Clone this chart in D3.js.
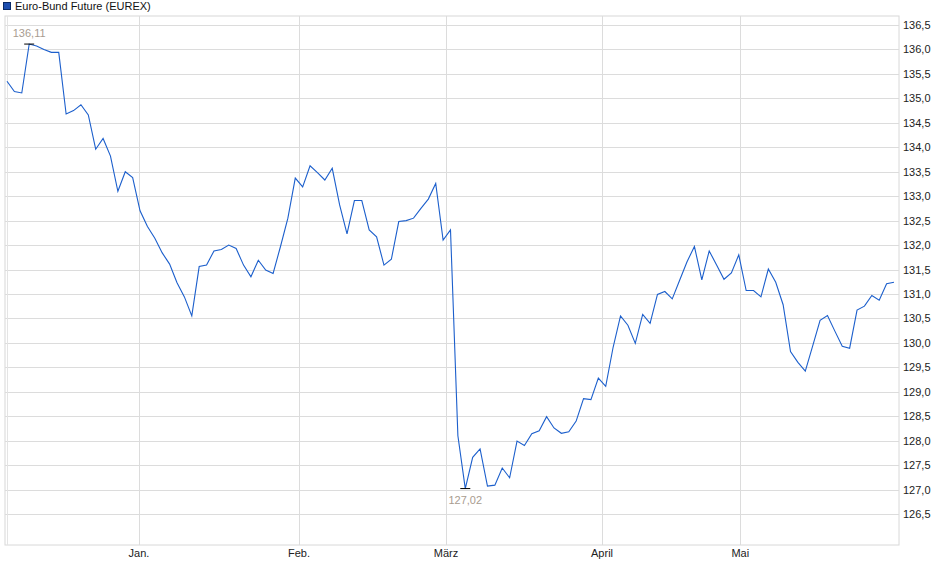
<!DOCTYPE html>
<html><head><meta charset="utf-8">
<script src="https://cdn.jsdelivr.net/npm/d3@7"></script>
<style>body{margin:0;background:#fff}svg{font-family:"Liberation Sans",Arial,sans-serif}</style>
</head><body><svg id="c" width="940" height="579"></svg>
<script>
// closing prices, one per trading day
const prices = [135.35,135.14,135.11,136.11,136.07,136.00,135.94,135.94,134.68,134.75,134.87,134.66,133.96,134.18,133.82,133.10,133.50,133.38,132.70,132.38,132.14,131.84,131.61,131.23,130.94,130.55,131.56,131.59,131.88,131.91,132.00,131.93,131.59,131.35,131.69,131.49,131.42,131.97,132.55,133.37,133.19,133.62,133.48,133.33,133.57,132.82,132.23,132.91,132.91,132.31,132.17,131.59,131.71,132.48,132.50,132.55,132.75,132.94,133.26,132.10,132.31,128.10,
127.02,127.66,127.83,127.07,127.09,127.44,127.24,127.99,127.90,128.14,128.20,128.49,128.26,128.15,128.18,128.40,128.86,128.84,129.28,129.11,129.91,130.55,130.36,129.99,130.58,130.40,130.99,131.05,130.90,131.28,131.66,131.97,131.29,131.88,131.59,131.30,131.43,131.80,131.07,131.07,130.94,131.51,131.24,130.78,129.82,129.60,129.42,129.94,130.46,130.56,130.24,129.93,129.89,130.67,130.75,130.97,130.87,131.21,131.24];
const monthLabels = ["Jan.","Feb.","März","April","Mai"];
const monthPos = [17.86,39.5,59.4,80.5,99.2];
const yTicks = d3.range(126.5,136.51,0.5);

const svg = d3.select("#c");
const L=5,R=899,T=16,B=545;
const x = d3.scaleLinear().domain([0,prices.length-1]).range([7,894]);
const y = d3.scaleLinear().domain([126.5,136.5]).range([514,25]);
const fmt = v => d3.format(".1f")(v).replace(".",",");

svg.append("rect").attr("x",L).attr("y",T).attr("width",R-L).attr("height",B-T)
  .attr("fill","none").attr("stroke","#d8d8d8");
svg.selectAll(".hg").data(yTicks).join("line")
  .attr("x1",L).attr("x2",R).attr("y1",d=>Math.round(y(d))+0.5).attr("y2",d=>Math.round(y(d))+0.5)
  .attr("stroke","#dcdcdc");
svg.selectAll(".vg").data(monthPos).join("line")
  .attr("y1",T).attr("y2",B).attr("x1",d=>Math.round(x(d))+0.5).attr("x2",d=>Math.round(x(d))+0.5)
  .attr("stroke","#dcdcdc");
svg.append("line").attr("x1",7.5).attr("x2",7.5).attr("y1",T).attr("y2",B).attr("stroke","#e4e4e4");

svg.selectAll(".yl").data(yTicks).join("text")
  .attr("x",903).attr("y",d=>y(d)+4).attr("font-size",11).attr("fill","#222").text(fmt);
svg.selectAll(".xl").data(monthPos).join("text")
  .attr("x",d=>x(d)).attr("y",557).attr("text-anchor","middle").attr("font-size",11).attr("fill","#222")
  .text((d,i)=>monthLabels[i]);

svg.append("path").datum(prices)
  .attr("d",d3.line().x((d,i)=>x(i)).y(d=>y(d)))
  .attr("fill","none").attr("stroke","#1c5fcc").attr("stroke-width",1.1);

// min / max markers
const iMax = d3.maxIndex(prices), iMin = d3.minIndex(prices);
[[iMax,-7],[iMin,15]].forEach(([i,dy])=>{
  svg.append("line").attr("x1",x(i)-5).attr("x2",x(i)+5).attr("y1",y(prices[i])).attr("y2",y(prices[i]))
    .attr("stroke","#000");
  svg.append("text").attr("x",x(i)).attr("y",y(prices[i])+dy).attr("text-anchor","middle")
    .attr("font-size",11).attr("fill","#a89c90").text(d3.format(".2f")(prices[i]).replace(".",","));
});

// legend
svg.append("rect").attr("x",3.5).attr("y",2.5).attr("width",7).attr("height",7)
  .attr("fill","#1d4fb0").attr("stroke","#0a2a66");
svg.append("text").attr("x",15).attr("y",10).attr("font-size",11).attr("fill","#111")
  .text("Euro-Bund Future (EUREX)");
</script></body></html>
